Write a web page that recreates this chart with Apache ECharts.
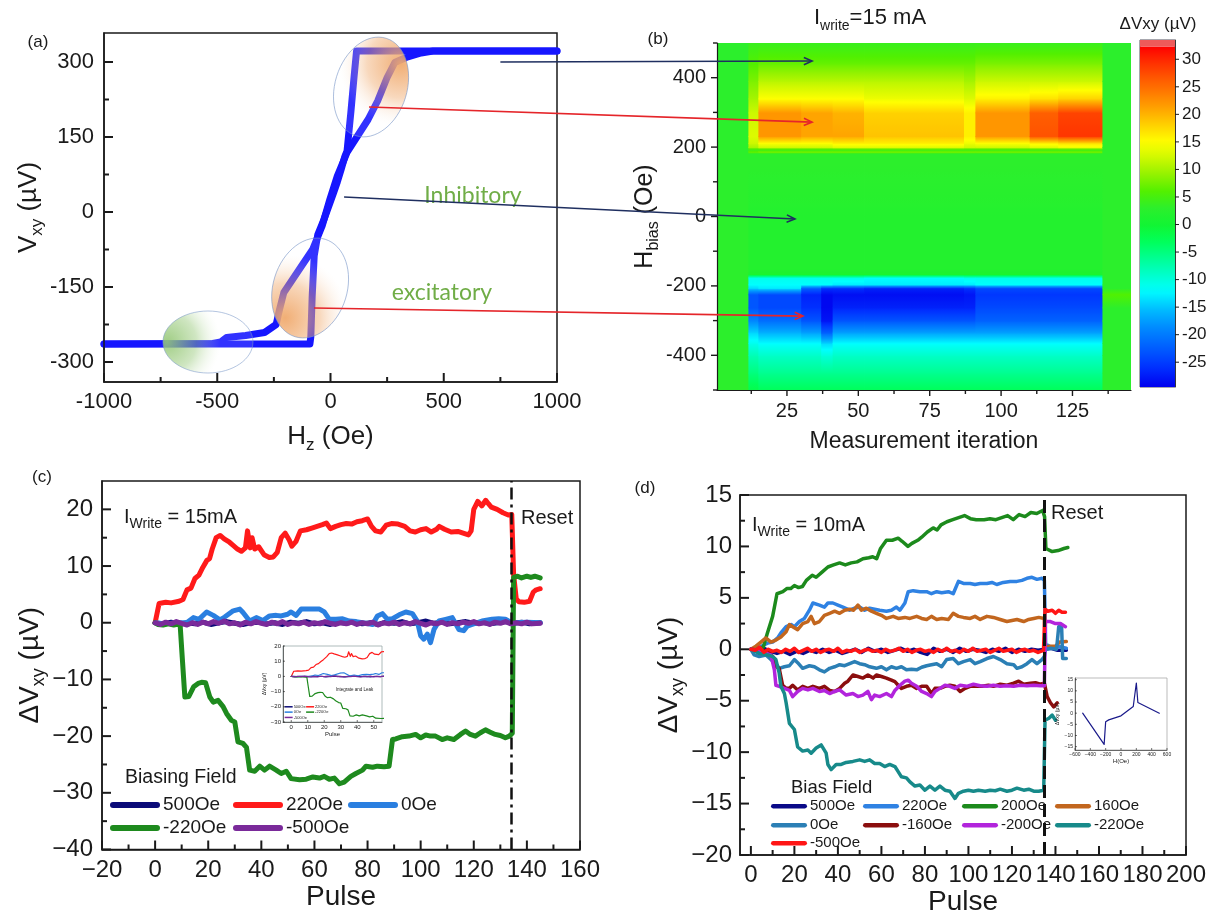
<!DOCTYPE html>
<html><head><meta charset="utf-8">
<script src="https://cdn.jsdelivr.net/npm/echarts@6/dist/echarts.min.js"></script>
<style>html,body{margin:0;padding:0;background:#fff}#main{width:1210px;height:918px}</style>
</head><body><div id="main"></div>
<script>
// ---------------- DATA ----------------
// (a) hysteresis loop, [H (Oe), Vxy (uV)]
const aSteep = [[-1000,-264],[-600,-264],[-91,-264],[-87,-250],[-81,-170],[-72,-88],[-56,-45],[-29,-15],[-5,15],[14,39],[30,60],[47,85],[64,112],[73,122],[90,200],[104,270],[115,322],[400,322],[1000,322]];
const aGradual = [[1000,322],[453,322],[400,318],[334,309],[284,299],[250,269],[208,222],[166,185],[115,149],[73,119],[30,72],[-3,25],[-37,-28],[-79,-75],[-147,-121],[-206,-161],[-225,-195],[-240,-225],[-291,-241],[-375,-247],[-459,-251],[-485,-260],[-520,-263],[-1000,-264]];
const aXTicks = [-1000,-500,0,500,1000];
const aYTicks = [-300,-150,0,150,300];
const aXMinor = [-750,-250,250,750];
const aYMinor = [-225,-75,75,225];

// (b) heat map: iteration block edges, field levels, dVxy per block at each level
const bIterEdges = [0.5,11.5,15,30,37,41,52,87,91,110,120,135.5,145.5];
const bHLevels = [-500,-450,-400,-365,-335,-300,-262,-224,-206,-196,-176,-166,-150,0,150,182,187,193,200,212,232,300,340,390,440,500];
const bBlock0  = [3,3,3,3,3,3,3,3,3,3,3,3,3,3,3,3,3,3,3,3,3,3,3,3,3,3];
const bBlock1  = [-2,-5,-8,-11,-14,-19,-23,-23,-14,-12,-11,1,2,2,3,3,7,4,10,12,13,12,10,8,6,4];
const bBlock2  = [-3,-6,-9,-12,-16,-21,-24,-24,-13,-12,-11,1,2,2,3,3,8,4,12,15,22,22,15,11,7,4];
const bBlock3  = [-3,-6,-9,-12,-17,-23,-26,-27,-22,-12,-11,1,2,2,3,3,8,4,12,15,21,21,15,11,7,4];
const bBlock4  = [-3,-6,-10,-14,-22,-28,-29,-29,-26,-12,-11,1,2,2,3,3,8,4,12,15,21,21,15,11,7,4];
const bBlock5  = [-3,-6,-9,-12,-17,-23,-27,-28.5,-26,-13,-11,1,2,2,3,3,8,4,13,16,21,20,15,11,7,4];
const bBlock6  = [-3,-6,-9,-12,-17,-23,-27,-28.5,-27,-13,-12,1,2,2,3,3,8,4,13,16,19,18,14,11,7,4];
const bBlock7  = [-3,-6,-9,-12,-17,-23,-27,-28,-26,-13,-11,1,2,2,3,3,8,4,12,14,16,16,13,10,7,4];
const bBlock8  = [-3,-6,-9,-12,-17,-22,-24,-25.5,-24,-12,-11,1,2,2,3,3,8,4,12,15,22,22,16,12,8,4];
const bBlock9  = [-3,-6,-9,-12,-17,-22,-24,-25.5,-24,-12,-11,1,2,2,3,3,8,4,13,16,27,26,17,12,8,4];
const bBlock10 = [-3,-6,-9,-12,-17,-22,-24,-25.5,-24,-12,-11,1,2,2,3,3,8,4,14,17,29,28,18,12,8,4];
const bBlock11 = [3,3,3,3,3,3,3,6,3,3,3,3,3,3,3,3,3,3,3,3,3,3,3,3,3,3];
const bXTicks = [25,50,75,100,125];
const bYTicks = [-400,-200,0,200,400];
const bXMinor = [12.5,37.5,62.5,87.5,112.5,137.5];
const bYMinor = [-500,-300,-100,100,300,500];
const cbRange = [-29.5, 32.3, 33.5];
const cbTicks = [-25,-20,-15,-10,-5,0,5,10,15,20,25,30];

// (c) I_write = 15 mA, [pulse, dVxy]
const c500 = [[0,0],[3,-0.2],[6,0.1],[9,-0.3],[12,0],[15,-0.2],[18,0.1],[21,-0.3],[24,0],[27,0.2],[30,-0.1],[33,-0.3],[36,0],[39,0.1],[42,-0.2],[45,0],[48,-0.3],[51,0.1],[54,-0.1],[57,0.2],[60,-0.2],[63,0],[66,-0.3],[69,0.1],[72,-0.1],[75,0.2],[78,-0.2],[81,0],[84,-0.3],[87,0.1],[90,-0.1],[93,0.2],[96,-0.2],[99,0],[102,0.3],[105,-0.1],[108,0.1],[111,-0.2],[114,0],[117,0.2],[120,-0.1],[123,0.1],[126,-0.2],[129,0],[132,0.2],[135,-0.1],[138,0.1],[141,-0.2],[145,0]];
const c220 = [[0,0],[1.5,3.4],[4,3.6],[6,3.5],[9,3.8],[10.5,4.1],[12,5.8],[13.5,6.1],[15,7.8],[16.5,8.4],[18,9.8],[19.5,11],[20.5,11.3],[21.5,13],[23,15],[24.5,15.4],[26,14.8],[28,14.2],[29.5,13.6],[31,13],[32.5,12.6],[34,13.2],[34.8,16.2],[35.8,13.2],[36.5,15],[37.5,13],[39,13.4],[41,12],[43,11.5],[44.5,11.6],[46,12.4],[47.5,15],[49,15.8],[50.5,14.6],[51.5,13.5],[53,14.3],[54.7,16.2],[57,16.4],[59,16.7],[61,17],[63,17.3],[64.5,17.6],[66,16.6],[68,17],[70,17.3],[72,17.5],[74,17.4],[76,17.8],[78,18],[80,18.3],[81.5,17],[83,16.2],[85,16],[87,17.2],[89,17.5],[91.5,17.4],[94,17],[96,16.2],[98,16],[100,16.4],[102,16.6],[104,16],[106,16.5],[107,17],[109,16.5],[111.5,16],[114,16.1],[116,15.8],[118,15.5],[119,16.2],[120,20],[121.5,21.4],[123,20.6],[124.5,21.6],[125.5,21],[126.6,20.4],[128.8,20],[131,19.4],[133,19],[134.3,19.1],[135,8.5],[136,4.2],[137,3.7],[139,3.6],[141,3.8],[142.4,5.4],[143.5,5.8],[145,6]];
const c0 = [[0,0],[4,-0.2],[8,0],[11.9,0],[14.4,0.9],[16.5,0.6],[19.4,1.9],[21.9,1.3],[24.4,0.5],[26.2,1],[29.4,2.1],[31.9,2.4],[33.1,1.8],[35.6,0.3],[38.1,0.9],[40.6,0.4],[43.1,1.2],[45.6,1.3],[47.5,1.2],[49.9,1.5],[51.2,1.9],[53.1,1.3],[55,2.4],[58.1,2.4],[61.9,2.4],[63.7,1.9],[65.6,0.6],[68.1,0.6],[70.6,0.7],[73.1,0.3],[75.6,0.2],[79.4,-0.1],[81.9,-0.3],[83.7,1.2],[85.6,1.6],[87.5,0.6],[89.4,0.7],[91.9,1.4],[94.4,1.9],[96.9,1.6],[98.7,0.3],[100,-2.3],[101.2,-2.9],[102.5,-2],[103.7,-3.5],[105,-1.2],[106.9,0.3],[109.4,0.6],[111.9,0.9],[114.4,-1.2],[116.2,-1.4],[117.5,-0.6],[119.4,-0.3],[123.1,0.3],[126.9,0.6],[129.4,0.7],[131.9,0.6],[133.1,0.3],[135,0],[140,0.1],[145,0]];
const cm220 = [[0,0],[1,-0.3],[3,-0.4],[5,-0.2],[7,-0.4],[9.4,-0.2],[10.2,-6],[11.2,-13.1],[12.7,-13],[14.5,-11.3],[16.2,-10.7],[17.5,-10.5],[19,-10.6],[20.6,-13.1],[21.9,-14],[23.7,-13.7],[25.6,-14.8],[26.9,-16],[28.7,-17.2],[30,-17.5],[31.2,-21],[33.1,-21.3],[34.4,-22],[35.6,-26],[37.5,-26.2],[39.4,-25.3],[41.2,-26],[43.1,-25.3],[45.6,-26],[47.5,-26.6],[49.4,-26.2],[51.2,-27.5],[54.4,-27.7],[56.9,-27.6],[59.4,-27.2],[61.9,-27.4],[63.7,-27.1],[65.6,-27.6],[67.5,-27.4],[69.4,-28.4],[71.2,-28.1],[73.7,-27.1],[75.6,-26.6],[78.1,-26],[79.4,-25.3],[81.9,-25.5],[83.7,-25.3],[86.2,-25.4],[88.1,-25.3],[89.4,-20.6],[90.6,-20.5],[93.1,-20.1],[95.6,-20],[98.1,-19.7],[100,-20.3],[101.9,-19.8],[103.7,-20],[105.6,-20],[108.1,-20.6],[110,-20.3],[112.5,-20.6],[115,-19.7],[116.9,-19.1],[118.7,-19.7],[120.6,-20],[122.5,-19.4],[124.4,-18.9],[126.2,-19.3],[128.1,-19.7],[130,-19.9],[131.9,-20.3],[133.4,-20],[134.5,-19.5],[135,8],[136.5,8.2],[138,7.9],[140,8.2],[141.5,8],[143,8.2],[145,7.9]];
const cm500 = [[0,0],[2,-0.3],[4,0.1],[6,-0.2],[8,0.2],[10,-0.1],[12,-0.4],[14,0],[16,-0.3],[18,0.1],[20,-0.2],[22,0.2],[24,-0.1],[26,0.3],[28,-0.2],[30,0],[32,-0.4],[34,0.1],[36,-0.2],[38,0.2],[40,-0.1],[42,-0.3],[44,0.1],[46,-0.2],[48,0.2],[50,-0.3],[52,0],[54,-0.2],[56,0.1],[58,-0.3],[60,0],[62,-0.2],[64,0.2],[66,-0.1],[68,-0.3],[70,0],[72,-0.2],[74,0.1],[76,-0.3],[78,0],[80,-0.2],[82,0.1],[84,-0.4],[86,0],[88,-0.2],[90,0.1],[92,-0.3],[94,0],[96,-0.2],[98,0.2],[100,-0.1],[102,-0.4],[104,0],[106,-0.2],[108,0.1],[110,-0.3],[112,0],[114,-0.2],[116,0.1],[118,-0.1],[120,0.2],[122,-0.2],[124,0],[126,-0.3],[128,0.1],[130,-0.1],[132,0.2],[134,-0.2],[136,0],[138,-0.2],[140,0.1],[142,-0.2],[145,-0.1]];
const cResetPulse = 134.2;
const cXTicks = [-20,0,20,40,60,80,100,120,140,160];
const cYTicks = [-40,-30,-20,-10,0,10,20];
const cXMinor = [-10,10,30,50,70,90,110,130,150];
const cYMinor = [-35,-25,-15,-5,5,15];

// (d) I_write = 10 mA, [pulse, dVxy]
const d500 = [[0,0],[3,-0.1],[6,0.1],[9,-0.2],[12,-0.4],[15,-0.2],[18,-0.5],[21,-0.2],[24,-0.4],[27,-0.1],[30,-0.3],[33,0],[36,-0.3],[39,-0.1],[42,-0.4],[45,-0.2],[48,0],[51,-0.3],[54,0.1],[57,-0.2],[60,0],[63,-0.3],[66,-0.1],[69,0.1],[72,-0.2],[75,0],[78,-0.3],[81,-0.5],[84,0.1],[87,-0.2],[90,0],[93,-0.3],[96,0.1],[99,-0.2],[102,0],[105,-0.1],[108,-0.3],[111,0],[114,-0.2],[117,0.1],[120,-0.3],[123,0],[126,-0.2],[129,0],[132,-0.1],[135,0],[138,0.1],[141,-0.1],[145,-0.1]];
const d220 = [[0,0],[3.8,0.2],[7.7,0.6],[10,0.7],[12.3,1.1],[13.8,1.6],[16.2,2.2],[18.5,2.4],[20,2.2],[22.3,2.7],[24.6,3],[26.9,3.8],[28.5,4.5],[31.5,4.3],[33.8,4.1],[35.4,4.5],[37.7,4.5],[40,4.3],[42.3,4.1],[45.4,3.8],[47.7,4],[50,4.1],[52.3,3.8],[54.6,4],[56.9,3.9],[59.2,3.8],[62.3,3.7],[64.6,3.8],[66.9,4.1],[68.5,3.8],[70.8,4.5],[72.3,5.6],[74.6,5.7],[77.7,5.6],[80.8,5.6],[83,5.4],[85.4,5.6],[87.7,5.5],[90.8,5.6],[93,5.4],[95.4,6.6],[97.7,6.4],[100.8,6.4],[103,6.3],[105.4,6.4],[108.5,6.4],[110.8,6.5],[113,6.3],[116,6.5],[119.2,6.6],[122.3,6.6],[124.6,6.7],[126.9,6.9],[129.2,7],[131.5,6.8],[133.8,6.9],[134.9,6.7],[135.5,0.5],[138,0.2],[141,0.3],[145,0.1]];
const d200 = [[0,0],[5.7,0.2],[7.5,1.5],[10,3.2],[12,5.4],[14.7,5.6],[16.5,5.9],[18.3,5.9],[20,6.2],[21.9,6],[23.7,6.1],[25.5,6.7],[28.2,7.2],[30,7],[32.7,7.5],[35.4,8],[38,8.2],[40.8,8.4],[43.4,8.2],[46.1,8.4],[48.8,8.5],[51.5,8.8],[54.2,8.9],[56,9],[57.8,8.8],[59.6,9.8],[62.3,10.6],[65,10.6],[67.7,10.8],[69.5,10.5],[72.2,10],[74,10.3],[76.7,10.6],[78.5,10.9],[81.1,11.4],[83.8,11.8],[85.6,11.6],[87.4,12.1],[90.1,12.4],[92.8,12.6],[95.5,12.8],[98.2,13],[100.9,12.7],[103.6,12.6],[107.2,12.6],[109.9,12.7],[112.6,12.6],[115.3,12.8],[118,13],[120.6,12.6],[123.3,13.1],[126,12.9],[128.7,13.3],[131.4,13.2],[134.1,13.5],[135,12.9],[135.6,9.8],[138.5,9.5],[141.2,9.6],[143.9,9.8],[145.7,9.9]];
const d160 = [[0,0],[2.3,0.3],[4.6,0.7],[6.9,1.1],[9.2,0.7],[11.5,0.9],[13.8,1.2],[16.2,1.7],[17.7,2.4],[19.2,2.2],[21.5,1.9],[23.8,2.5],[26.2,2.7],[27.7,3.2],[29.2,2.5],[31.5,2.7],[33.8,3.3],[36.2,3.5],[38.5,3.7],[40.8,3.5],[43.1,3.8],[45.4,3.9],[47.2,3.8],[49.2,4.3],[50.8,3.8],[53.1,4],[55.4,3.7],[57.7,3.5],[60,3.3],[62.3,3],[65.4,3.2],[67.7,3],[70.8,3.1],[73.1,3],[76.2,3.2],[78.5,3],[80.8,2.9],[83,3.2],[85.4,2.9],[87.7,3],[90.8,2.9],[93,3.5],[95.4,3.2],[97.7,3.1],[100.8,3],[103,3.2],[105.4,2.9],[108.5,3.2],[111.5,3.1],[114.6,2.9],[117.7,2.7],[120,2.8],[122.3,2.9],[125.4,2.7],[127.7,2.9],[130,3],[132.3,3.1],[134.9,3],[135.4,0.2],[137.5,0.3],[140,0.3],[142,0.7],[145,0.75]];
const d0 = [[0,0],[1.5,-0.55],[3.8,-0.7],[6.9,-0.55],[9.2,-1],[11.5,-1.4],[13,-1.85],[15.4,-1.7],[17.7,-1.6],[20,-1],[21.5,-1.3],[23.8,-1.85],[26.9,-1.6],[29.2,-1.7],[31.5,-2],[33.8,-2.2],[36.2,-1.85],[38.5,-1.7],[40.8,-1.5],[43.1,-1.6],[45.4,-1.4],[47.7,-1.2],[50,-1.4],[52.3,-1.5],[54.6,-1.7],[57.7,-1.85],[60,-1.7],[62.3,-2],[64.6,-1.7],[66.9,-1.85],[69.2,-1.7],[71.5,-2],[73.8,-1.95],[76.2,-2],[78.5,-1.75],[80.8,-1.6],[83,-1.5],[85.4,-1.4],[87.7,-1.7],[90,-1],[93,-0.9],[95.4,-1.4],[97.7,-1.2],[100.8,-1],[103,-1.4],[105.4,-1.2],[108.5,-0.9],[111.5,-0.7],[114.6,-1],[117.7,-1.4],[120.8,-1.5],[122.3,-1.85],[124.6,-1.7],[126.9,-1.4],[129.2,-1],[131.5,-1.4],[133.8,-1],[134.9,-0.7],[135.5,0],[138,0.1],[140.5,0],[141.5,2.2],[142.8,2.4],[143.3,-0.9],[145,-0.9]];
const dm160 = [[0,0],[3.8,-0.1],[7.7,-0.2],[10,-0.7],[11.5,-1.7],[13,-1.85],[14.6,-3.5],[16.2,-3.8],[17.7,-3.8],[19.2,-3.5],[21.5,-3.95],[23.8,-3.6],[26.2,-3.8],[28.5,-3.6],[31.5,-3.8],[33.8,-3.6],[36.2,-4],[38.5,-4.1],[40.8,-3.8],[43.1,-3.3],[44.6,-3.1],[46.9,-2.5],[49.2,-2.65],[51.5,-2.8],[53.8,-2.5],[56.2,-2.8],[57.7,-2.5],[60,-2.65],[62.3,-2.8],[64.6,-3],[66.2,-3.15],[67.7,-3.5],[69.2,-3.8],[71.5,-3.6],[73.8,-3.5],[76.2,-3.8],[78.5,-3.6],[80.8,-3.6],[83,-4.3],[84.6,-3.8],[86.9,-3.8],[89.2,-3.6],[91.5,-3.5],[93.8,-3.6],[96.2,-4.1],[98.5,-3.8],[100.8,-3.6],[103.8,-3.6],[106.2,-3.6],[109.2,-3.5],[111.5,-3.6],[114.6,-3.4],[117.7,-3.5],[120.8,-3.3],[123.1,-3.1],[125.4,-3.4],[128.5,-3.3],[130.8,-3.25],[133,-3.4],[134.9,-3.3],[136.2,-4.6],[137.7,-5.2],[139.2,-5.6],[140.8,-5.2]];
const dm200 = [[0,0],[4.6,-0.2],[9.2,-0.55],[10.8,-2],[11.5,-3.5],[13,-3.6],[15.4,-3.8],[17.7,-4],[19.2,-4.6],[21.5,-4.1],[23.8,-3.8],[26.2,-3.95],[28.5,-3.8],[31.5,-4.1],[33.8,-4],[36.2,-4.3],[38.5,-4.1],[40.8,-3.95],[43.8,-4.45],[46.9,-4.3],[49.2,-4.6],[51.5,-4.45],[53.8,-4.1],[55.4,-4.9],[56.9,-4.45],[59.2,-4.6],[62.3,-4.3],[64.6,-4.6],[66.2,-4],[68.5,-3.5],[70.8,-3.1],[72.3,-3],[73.8,-3.3],[76.2,-3.6],[78.5,-4.1],[80.8,-4.3],[83,-4.6],[84.6,-4.1],[86.9,-3.8],[89.2,-3.5],[91.5,-3.6],[93.8,-3.8],[96.2,-3.5],[99.2,-3.6],[102.3,-3.4],[105.4,-3.55],[108.5,-3.6],[111.5,-3.5],[114.6,-3.6],[117.7,-3.55],[120.8,-3.6],[123.8,-3.5],[126.9,-3.55],[130,-3.5],[133,-3.55],[134.9,-3.55],[135.4,2.7],[137.7,2.7],[140,2.5],[142.3,2.5],[144.6,2.2]];
const dm220 = [[0,0],[3.8,-0.4],[7.7,-0.55],[10,-0.7],[11.5,-1],[13,-2.3],[13.8,-3.6],[15.4,-4.3],[16.2,-5.2],[17.7,-7.2],[20,-7.8],[21.5,-9.5],[23.8,-9.9],[26.2,-9.8],[27.7,-10.1],[30,-9.6],[32.3,-9.3],[34.6,-10.1],[35.4,-11.2],[36.9,-11.7],[39.2,-11.2],[41.5,-11.2],[43.8,-11],[46.9,-10.9],[50,-10.75],[52.3,-10.9],[54.6,-10.75],[56.9,-11.1],[59.2,-11.1],[61.5,-11.4],[63.8,-11.2],[66.2,-11.4],[67.7,-11.9],[69.2,-12.4],[71.5,-12.5],[73.1,-12.9],[75.4,-13.3],[77.7,-13.2],[80,-13.7],[82.3,-13.3],[84.6,-13.7],[86.9,-13.3],[89.2,-13.7],[91.5,-13.8],[93.8,-14.5],[95.4,-14],[97.7,-13.8],[100,-13.7],[102.3,-13.8],[104.6,-13.7],[107.7,-13.8],[110,-13.7],[112.3,-13.75],[114.6,-13.6],[117.7,-13.8],[120,-13.7],[122.3,-13.5],[125.4,-13.7],[127.7,-13.6],[130,-13.8],[132.3,-13.8],[134.6,-13.7],[135.2,-6.9],[137,-6.7],[138.5,-6.4],[140,-6.9]];
const dm500 = [[0,0],[2,-0.1],[4,0.2],[6,-0.3],[8,0],[10,-0.2],[12,-0.1],[14,-0.3],[16,0],[18,-0.2],[20,0.1],[22,-0.3],[24,-0.1],[26,0.1],[28,-0.2],[30,0],[32,-0.3],[34,-0.1],[36,0],[38,-0.2],[40,0.1],[42,-0.3],[44,-0.1],[46,-0.2],[48,0],[50,-0.3],[52,-0.1],[54,0],[56,-0.2],[58,-0.1],[60,-0.3],[62,0],[64,-0.2],[66,-0.1],[68,0.1],[70,-0.2],[72,0],[74,-0.3],[76,-0.1],[78,0],[80,-0.2],[82,-0.1],[84,-0.3],[86,0],[88,-0.2],[90,0.1],[92,-0.2],[94,-0.1],[96,-0.3],[98,0],[100,-0.2],[102,0.1],[104,-0.2],[106,-0.1],[108,0],[110,-0.3],[112,-0.1],[114,0.1],[116,-0.2],[118,-0.1],[120,0],[122,-0.3],[124,-0.1],[126,0],[128,-0.2],[130,-0.1],[132,-0.3],[134.5,-0.1],[135.2,3.9],[136.5,3.7],[138.5,3.8],[140,3.5],[141.5,3.8],[143,3.6],[144.6,3.6]];
const dResetPulse = 135;
const dXTicks = [0,20,40,60,80,100,120,140,160,180,200];
const dYTicks = [-20,-15,-10,-5,0,5,10,15];
const dXMinor = [10,30,50,70,90,110,130,150,170,190];
const dYMinor = [-17.5,-12.5,-7.5,-2.5,2.5,7.5,12.5];
// (d) inset: final dVxy vs bias field
const dInsetH = [-500,-220,-200,-160,0,160,200,220,500];
const dInsetV = [0,-14,-3.8,-3,-1.2,3,13.5,4.8,0];
const cInsetXTicks = [0,10,20,30,40,50];
const cInsetYTicks = [-30,-20,-10,0,10,20];
const dInsetXTicks = [-600,-400,-200,0,200,400,600];
const dInsetYTicks = [-15,-10,-5,0,5,10,15];

// ---------------- STYLE ----------------
const FONT = 'Arial, "Liberation Sans", Helvetica, sans-serif';
const TXT = '#1a1a1a';
const PILL = 'path://M3,0L47,0A3,3,0,0,1,47,6L3,6A3,3,0,0,1,3,0Z';
const cmap = [[-29.5,'#0000ee'],[-26,'#0030ff'],[-22,'#0062ff'],[-18,'#0094ff'],[-15,'#00c4ff'],[-12,'#00ffff'],[-9,'#00ffc8'],[-6,'#00ff90'],[-3,'#00ff58'],[0,'#12f532'],[3,'#2cef2c'],[6,'#52f000'],[9,'#92f200'],[12,'#ccf800'],[15,'#ffff00'],[18,'#ffd200'],[21,'#ffa400'],[24,'#ff7a00'],[27,'#ff5200'],[30,'#ff2600'],[32.3,'#ff0000']];
function hex2rgb(h){return [parseInt(h.slice(1,3),16),parseInt(h.slice(3,5),16),parseInt(h.slice(5,7),16)];}
const cmapRGB = cmap.map(s => [s[0], hex2rgb(s[1])]);
function colorAt(v){
  if (v <= cmapRGB[0][0]) return 'rgb(' + cmapRGB[0][1].join(',') + ')';
  for (let i = 1; i < cmapRGB.length; i++) {
    if (v <= cmapRGB[i][0]) {
      const a = cmapRGB[i-1], b = cmapRGB[i], t = (v - a[0]) / (b[0] - a[0]);
      const c = a[1].map((x, k) => Math.round(x + (b[1][k] - x) * t));
      return 'rgb(' + c.join(',') + ')';
    }
  }
  return 'rgb(' + cmapRGB[cmapRGB.length-1][1].join(',') + ')';
}
const plain = v => String(v);
const minus = v => String(v).replace('-', '\u2212');

function mainAxis(o){
  return {
    type:'value', gridIndex:o.grid, min:o.min, max:o.max, position:o.pos,
    axisLine:{show:true, onZero:false, lineStyle:{color:TXT, width:o.lw || 1.5}},
    axisTick:{show:false},
    axisLabel:{show:true, customValues:o.ticks, fontSize:o.fs, color:TXT, fontFamily:FONT, margin:o.margin, formatter:o.fmt || plain},
    splitLine:{show:false},
    name:o.name, nameLocation:'middle', nameGap:o.gap, nameTextStyle:o.nameStyle,
    z:5
  };
}
function subName(main, sub, tail, fs, sfs){
  return {
    text:'{n|' + main + '}{s|' + sub + '}{n|' + tail + '}',
    style:{color:TXT, fontFamily:FONT, rich:{
      n:{fontSize:fs, lineHeight:fs + 8, color:TXT, fontFamily:FONT},
      s:{fontSize:sfs, lineHeight:sfs, verticalAlign:'bottom', color:TXT, fontFamily:FONT}
    }}
  };
}

// ---------------- BUILD ----------------
const nmA_y = subName('V','xy',' (\u00b5V)',26,17);
const nmA_x = subName('H','z',' (Oe)',26,17);
const nmB_y = subName('H','bias',' (Oe)',25,16);
const nmC_y = subName('\u0394V','xy',' (\u00b5V)',28,18);
const nmD_y = subName('\u0394V','xy',' (\u00b5V)',28,18);

const grids = [
  {left:104, top:33, width:453, height:349, show:true, borderColor:TXT, borderWidth:1.5},   // a
  {left:717, top:43, width:414, height:347, show:false},                                    // b heat
  {left:1140, top:40, width:35, height:347, show:true, borderColor:'#223', borderWidth:0.8},// b colorbar
  {left:102, top:481, width:478, height:368.5, show:true, borderColor:TXT, borderWidth:1.5},// c
  {left:283, top:646, width:99, height:76, show:true, borderColor:'#9aa', borderWidth:0.8, backgroundColor:'#fff'}, // c inset
  {left:740, top:495, width:446, height:360, show:true, borderColor:TXT, borderWidth:1.5},  // d
  {left:1075, top:678, width:92, height:72, show:true, borderColor:'#aaa', borderWidth:0.8, backgroundColor:'#fff'} // d inset
];

const xAxes = [
  mainAxis({grid:0, min:-1000, max:1000, pos:'bottom', ticks:aXTicks, fs:22, margin:9, name:nmA_x.text, gap:38, nameStyle:nmA_x.style}),
  mainAxis({grid:1, min:0.5, max:145.5, pos:'bottom', ticks:bXTicks, fs:20, margin:11, lw:1.2, name:'Measurement iteration', gap:40, nameStyle:{fontSize:23, color:TXT, fontFamily:FONT}}),
  {type:'value', gridIndex:2, min:0, max:1, show:false},
  mainAxis({grid:3, min:-20, max:160, pos:'bottom', ticks:cXTicks, fs:24, margin:9, fmt:minus, name:'Pulse', gap:34, nameStyle:{fontSize:28, color:TXT, fontFamily:FONT}}),
  mainAxis({grid:4, min:-5, max:55, pos:'bottom', ticks:cInsetXTicks, fs:6, margin:2, lw:0.6, name:'Pulse', gap:9, nameStyle:{fontSize:6, color:TXT, fontFamily:FONT}}),
  mainAxis({grid:5, min:-5, max:200, pos:'bottom', ticks:dXTicks, fs:24, margin:8, name:'Pulse', gap:32, nameStyle:{fontSize:28, color:TXT, fontFamily:FONT}}),
  mainAxis({grid:6, min:-600, max:600, pos:'bottom', ticks:dInsetXTicks, fs:5, margin:2, lw:0.6, fmt:minus, name:'H(Oe)', gap:8, nameStyle:{fontSize:6, color:TXT, fontFamily:FONT}})
];
const yAxes = [
  mainAxis({grid:0, min:-340, max:358, pos:'left', ticks:aYTicks, fs:22, margin:10, name:nmA_y.text, gap:52, nameStyle:nmA_y.style}),
  mainAxis({grid:1, min:-500, max:500, pos:'left', ticks:bYTicks, fs:20, margin:11, lw:1.2, name:nmB_y.text, gap:50, nameStyle:nmB_y.style}),
  mainAxis({grid:2, min:cbRange[0], max:cbRange[2], pos:'right', ticks:cbTicks, fs:17, margin:7, lw:0.8}),
  mainAxis({grid:3, min:-40, max:25, pos:'left', ticks:cYTicks, fs:24, margin:9, fmt:minus, name:nmC_y.text, gap:48, nameStyle:nmC_y.style}),
  mainAxis({grid:4, min:-30, max:20, pos:'left', ticks:cInsetYTicks, fs:6, margin:2, lw:0.6, fmt:minus, name:'\u0394Vxy (\u00b5V)', gap:12, nameStyle:{fontSize:5, color:TXT, fontFamily:FONT}}),
  mainAxis({grid:5, min:-20, max:15, pos:'left', ticks:dYTicks, fs:24, margin:8, fmt:minus, name:nmD_y.text, gap:46, nameStyle:nmD_y.style}),
  mainAxis({grid:6, min:-16.5, max:15.75, pos:'left', ticks:dInsetYTicks, fs:5, margin:2, lw:0.6, fmt:minus, name:'\u0394Vxy (\u00b5V)', gap:10, nameStyle:{fontSize:5, color:TXT, fontFamily:FONT}})
];

// heat map cells
const bBlocks = [bBlock0,bBlock1,bBlock2,bBlock3,bBlock4,bBlock5,bBlock6,bBlock7,bBlock8,bBlock9,bBlock10,bBlock11];
const heatData = [];
bBlocks.forEach((vals, s) => {
  for (let j = 0; j < bHLevels.length - 1; j++) {
    heatData.push([bIterEdges[s], bIterEdges[s+1], bHLevels[j], bHLevels[j+1], vals[j], vals[j+1]]);
  }
});
function heatRender(params, api){
  const x0 = api.value(0), x1 = api.value(1), h0 = api.value(2), h1 = api.value(3), v0 = api.value(4), v1 = api.value(5);
  const tl = api.coord([x0, h1]), br = api.coord([x1, h0]);
  const stops = [];
  for (let k = 0; k <= 8; k++) { const t = k / 8; stops.push({offset:t, color:colorAt(v1 + (v0 - v1) * t)}); }
  return {type:'rect', shape:{x:tl[0], y:tl[1], width:br[0]-tl[0]+0.8, height:br[1]-tl[1]+0.8},
    style:{fill:new echarts.graphic.LinearGradient(0,0,0,1,stops)}};
}
function cbRender(params, api){
  const lo = api.value(0), hi = api.value(1);
  const tl = api.coord([0, hi]), br = api.coord([1, lo]);
  let fill;
  if (params.dataIndex === 0) {
    const stops = [];
    for (let k = 0; k <= 40; k++) { const t = k / 40; stops.push({offset:t, color:colorAt(hi + (lo - hi) * t)}); }
    fill = new echarts.graphic.LinearGradient(0,0,0,1,stops);
  } else fill = '#ee5a5a';
  return {type:'rect', shape:{x:tl[0], y:tl[1], width:br[0]-tl[0], height:br[1]-tl[1]}, style:{fill:fill}};
}

function lineS(name, data, color, xi, yi, w, z){
  return {type:'line', name:name, data:data, xAxisIndex:xi, yAxisIndex:yi, showSymbol:false, symbol:'none',
    lineStyle:{color:color, width:w, cap:'round', join:'round'}, itemStyle:{color:color}, z:z || 3, silent:true, clip:true, animation:false};
}
const cCol = {'500Oe':'#0b0b78','220Oe':'#ff1a1a','0Oe':'#2a7fe0','-220Oe':'#1e8a1e','-500Oe':'#7a2a9a'};
const dCol = {'500Oe':'#0a0a88','220Oe':'#2f82e3','200Oe':'#1c8a1c','160Oe':'#c2661e','0Oe':'#2b7fb5','-160Oe':'#8b0e0e','-200Oe':'#b224dc','-220Oe':'#178a8a','-500Oe':'#ff1515'};

const series = [
  lineS('a1', aGradual, '#1616ff', 0, 0, 7),
  lineS('a2', aSteep, '#1616ff', 0, 0, 7),
  {type:'custom', name:'heat', xAxisIndex:1, yAxisIndex:1, data:heatData, encode:{x:[0,1], y:[2,3]}, renderItem:heatRender, clip:true, silent:true, z:1, animation:false},
  {type:'custom', name:'cbar', xAxisIndex:2, yAxisIndex:2, data:[[cbRange[0], cbRange[1]],[cbRange[1], cbRange[2]]], encode:{x:[], y:[0,1]}, renderItem:cbRender, silent:true, z:1, animation:false},
  lineS('500Oe', c500, cCol['500Oe'], 3, 3, 5),
  lineS('220Oe', c220, cCol['220Oe'], 3, 3, 5),
  lineS('0Oe', c0, cCol['0Oe'], 3, 3, 5),
  lineS('-220Oe', cm220, cCol['-220Oe'], 3, 3, 5),
  Object.assign(lineS('-500Oe', cm500, cCol['-500Oe'], 3, 3, 5), {
    markLine:{silent:true, symbol:'none', label:{show:false}, lineStyle:{color:'#111', width:2.5, type:[12,5,3,5]}, data:[{xAxis:cResetPulse}], animation:false}
  }),
  lineS('500Oe', c500, cCol['500Oe'], 4, 4, 1.2, 12),
  lineS('220Oe', c220, cCol['220Oe'], 4, 4, 1.2, 12),
  lineS('0Oe', c0, cCol['0Oe'], 4, 4, 1.2, 12),
  lineS('-220Oe', cm220, cCol['-220Oe'], 4, 4, 1.2, 12),
  lineS('-500Oe', cm500, cCol['-500Oe'], 4, 4, 1.2, 12),
  lineS('d:500Oe', d500, dCol['500Oe'], 5, 5, 3.5),
  lineS('d:220Oe', d220, dCol['220Oe'], 5, 5, 3.5),
  lineS('d:200Oe', d200, dCol['200Oe'], 5, 5, 3.5),
  lineS('d:160Oe', d160, dCol['160Oe'], 5, 5, 3.5),
  lineS('d:0Oe', d0, dCol['0Oe'], 5, 5, 3.5),
  lineS('d:-160Oe', dm160, dCol['-160Oe'], 5, 5, 3.5),
  lineS('d:-200Oe', dm200, dCol['-200Oe'], 5, 5, 3.5),
  lineS('d:-220Oe', dm220, dCol['-220Oe'], 5, 5, 3.5),
  Object.assign(lineS('d:-500Oe', dm500, dCol['-500Oe'], 5, 5, 3.5), {
    markLine:{silent:true, symbol:'none', label:{show:false}, lineStyle:{color:'#111', width:3, type:[13,6]}, data:[{xAxis:dResetPulse}], animation:false}
  }),
  lineS('inset', dInsetH.map((h, i) => [h, dInsetV[i]]), '#1a1a8a', 6, 6, 1.2, 12)
];

function legendItem(name, left, cy, w, ih, fs){
  return {data:[name], left:left, top:cy - fs * 0.55, padding:0, itemWidth:w, itemHeight:ih, itemGap:0, icon:PILL,
    selectedMode:false, formatter:n => n.replace(/^d:/, ''), textStyle:{fontSize:fs, color:TXT, fontFamily:FONT, padding:[0,0,0,-2]}};
}
const legends = [
  legendItem('500Oe', 110, 806, 50, 7, 19), legendItem('220Oe', 233, 806, 50, 7, 19), legendItem('0Oe', 348, 806, 50, 7, 19),
  legendItem('-220Oe', 110, 829, 50, 7, 19), legendItem('-500Oe', 233, 829, 50, 7, 19),
  legendItem('d:500Oe', 771, 807, 36, 5, 15), legendItem('d:220Oe', 863, 807, 36, 5, 15), legendItem('d:200Oe', 962, 807, 36, 5, 15), legendItem('d:160Oe', 1055, 807, 36, 5, 15),
  legendItem('d:0Oe', 771, 826, 36, 5, 15), legendItem('d:-160Oe', 863, 826, 36, 5, 15), legendItem('d:-200Oe', 962, 826, 36, 5, 15), legendItem('d:-220Oe', 1055, 826, 36, 5, 15),
  legendItem('d:-500Oe', 771, 844, 36, 5, 15)
];

const chart = echarts.init(document.getElementById('main'), null, {renderer:'canvas'});
chart.setOption({
  animation:false, backgroundColor:'#fff',
  grid:grids, xAxis:xAxes, yAxis:yAxes, series:series, legend:legends
});

// ---------------- ANNOTATIONS ----------------
function P(grid, xy){ return chart.convertToPixel({gridIndex:grid}, xy); }
// axis ticks placed through the grid's own scales
function ticksX(g, values, yRef, len, inside, lw){
  const bottom = grids[g].top + grids[g].height;
  return values.map(v => { const x = P(g, [v, yRef])[0];
    return {type:'line', z:61, shape:{x1:x, y1:bottom, x2:x, y2:inside ? bottom - len : bottom + len}, style:{stroke:TXT, lineWidth:lw}}; });
}
function ticksY(g, values, xRef, len, inside, lw, right){
  const edge = right ? grids[g].left + grids[g].width : grids[g].left;
  const dir = (right ? 1 : -1) * (inside ? -1 : 1);
  return values.map(v => { const y = P(g, [xRef, v])[1];
    return {type:'line', z:61, shape:{x1:edge, y1:y, x2:edge + dir * len, y2:y}, style:{stroke:TXT, lineWidth:lw}}; });
}
function txt(x, y, text, fs, opts){
  return {type:'text', x:x, y:y, z:50, style:Object.assign({text:text, fontSize:fs, fill:TXT, fontFamily:FONT, verticalAlign:'middle', align:'left'}, opts || {})};
}
function subTxt(x, y, a, s, b, fs, sfs, align){
  return {type:'text', x:x, y:y, z:50, style:{text:'{n|' + a + '}{s|' + s + '}{n|' + b + '}', align:align || 'left', verticalAlign:'middle', fill:TXT, fontFamily:FONT,
    rich:{n:{fontSize:fs, lineHeight:fs + 8, fill:TXT, fontFamily:FONT}, s:{fontSize:sfs, lineHeight:sfs, verticalAlign:'bottom', fill:TXT, fontFamily:FONT}}}};
}
function arrow(p1, p2, color){
  const ang = Math.atan2(p2[1]-p1[1], p2[0]-p1[0]), L = 9, A = 0.42;
  return [
    {type:'line', z:60, shape:{x1:p1[0], y1:p1[1], x2:p2[0], y2:p2[1]}, style:{stroke:color, lineWidth:1.6}},
    {type:'polyline', z:60, shape:{points:[[p2[0]-L*Math.cos(ang-A), p2[1]-L*Math.sin(ang-A)], [p2[0], p2[1]], [p2[0]-L*Math.cos(ang+A), p2[1]-L*Math.sin(ang+A)]]}, style:{stroke:color, fill:null, lineWidth:1.6}}
  ];
}
function ellipse(c, rx, ry, rot, gx, gy, col){
  return {type:'ellipse', x:c[0], y:c[1], rotation:rot, z:40, shape:{cx:0, cy:0, rx:rx, ry:ry},
    style:{stroke:'rgba(120,150,200,0.7)', lineWidth:0.8,
      fill:new echarts.graphic.RadialGradient(gx, gy, 0.85, [{offset:0, color:col}, {offset:0.55, color:col.replace(/[\d.]+\)$/, '0.45)')}, {offset:1, color:'rgba(255,255,255,0.12)'}])}};
}
function insetKey(p, color, label){
  return [
    {type:'line', z:55, shape:{x1:p[0], y1:p[1], x2:p[0]+8, y2:p[1]}, style:{stroke:color, lineWidth:1.5}},
    txt(p[0]+9, p[1], label, 4, {})
  ];
}
const NAVY = '#1f2f60', RED = '#e5252a';
const graphics = [].concat(
  ticksX(0, aXTicks, 0, 9, true, 2), ticksX(0, aXMinor, 0, 5, true, 2),
  ticksY(0, aYTicks, 0, 9, true, 2), ticksY(0, aYMinor, 0, 5, true, 2),
  ticksX(1, bXTicks, 0, 6, false, 1.4), ticksX(1, bXMinor, 0, 4, false, 1.4),
  ticksY(1, bYTicks, 50, 6, false, 1.4), ticksY(1, bYMinor, 50, 4, false, 1.4),
  ticksY(2, cbTicks, 0.5, 4, false, 1, true),
  ticksX(3, cXTicks, 0, 9, true, 2), ticksX(3, cXMinor, 0, 5, true, 2),
  ticksY(3, cYTicks, 0, 9, true, 2), ticksY(3, cYMinor, 0, 5, true, 2),
  ticksX(5, dXTicks, 0, 9, true, 2), ticksX(5, dXMinor, 0, 5, true, 2),
  ticksY(5, dYTicks, 0, 9, true, 2), ticksY(5, dYMinor, 0, 5, true, 2),
  ticksX(4, cInsetXTicks, 0, 2, true, 0.6), ticksY(4, cInsetYTicks, 0, 2, true, 0.6),
  ticksX(6, dInsetXTicks, 0, 2, true, 0.6), ticksY(6, dInsetYTicks, 0, 2, true, 0.6),
  ellipse(P(0, [179, 250]), 36, 51, -0.3, 0.8, 0.2, 'rgba(240,170,110,0.95)'),
  ellipse(P(0, [-90, -152]), 37, 51, -0.3, 0.3, 0.85, 'rgba(240,170,110,0.95)'),
  ellipse(P(0, [-541, -260]), 45, 31, 0, 0.05, 0.5, 'rgba(150,200,120,0.9)'),
  arrow(P(0, [750, 300]), P(1, [33.8, 448]), NAVY),
  arrow(P(0, [170, 210]), P(1, [33.8, 272]), RED),
  arrow(P(0, [60, 30]), P(1, [27.8, -7]), NAVY),
  arrow(P(0, [-73, -192]), P(1, [30.6, -287]), RED),
  insetKey(P(4, [-4, -20]), cCol['500Oe'], '500Oe'),
  insetKey(P(4, [9, -20]), cCol['220Oe'], '220Oe'),
  insetKey(P(4, [-4, -23.5]), cCol['0Oe'], '0Oe'),
  insetKey(P(4, [9, -23.5]), cCol['-220Oe'], '-220Oe'),
  insetKey(P(4, [-4, -27]), cCol['-500Oe'], '-500Oe'),
  [
    txt(P(0,[629,32])[0], P(0,[629,32])[1], 'Inhibitory', 23, {fill:'#70ad47', fontFamily:'Lato, "Open Sans", sans-serif', align:'center'}),
    txt(P(0,[492,-162])[0], P(0,[492,-162])[1], 'excitatory', 23, {fill:'#70ad47', fontFamily:'Lato, "Open Sans", sans-serif', align:'center'}),
    txt(38, 42, '(a)', 17, {align:'center'}),
    txt(658, 39, '(b)', 17, {align:'center'}),
    txt(42, 477, '(c)', 17, {align:'center'}),
    txt(645, 488, '(d)', 17, {align:'center'}),
    subTxt(870, 18, 'I', 'write', '=15 mA', 22, 14, 'center'),
    txt(1158, 24, '\u0394Vxy (\u00b5V)', 17, {align:'center'}),
    subTxt(124, 517, 'I', 'Write', ' = 15mA', 20, 14),
    txt(521, 518, 'Reset', 20),
    subTxt(752, 525, 'I', 'Write', ' = 10mA', 20, 14),
    txt(1051, 513, 'Reset', 20),
    txt(125, 778, 'Biasing Field', 19.5),
    txt(791, 788, 'Bias Field', 18.5),
    txt(P(4,[27,-9])[0], P(4,[27,-9])[1], 'Integrate and Leak', 4.5)
  ]
);
chart.setOption({graphic:graphics});
</script></body></html>
